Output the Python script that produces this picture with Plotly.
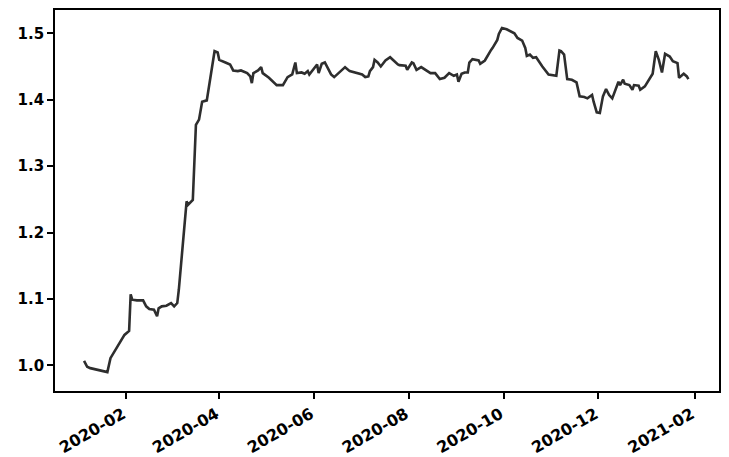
import plotly.graph_objects as go

dates = [
    "2020-01-05", "2020-01-06", "2020-01-07", "2020-01-09", "2020-01-11", "2020-01-13",
    "2020-01-16", "2020-01-20", "2020-01-22", "2020-01-25", "2020-01-28", "2020-01-31",
    "2020-02-03", "2020-02-04", "2020-02-05", "2020-02-08", "2020-02-12", "2020-02-14",
    "2020-02-16", "2020-02-19", "2020-02-21", "2020-02-22", "2020-02-24", "2020-02-27",
    "2020-03-01", "2020-03-03", "2020-03-05", "2020-03-06", "2020-03-11", "2020-03-12",
    "2020-03-15", "2020-03-17", "2020-03-19", "2020-03-21", "2020-03-24", "2020-03-27",
    "2020-03-29", "2020-03-31", "2020-04-01", "2020-04-05", "2020-04-08", "2020-04-10",
    "2020-04-13", "2020-04-15", "2020-04-19", "2020-04-21", "2020-04-22", "2020-04-23",
    "2020-04-26", "2020-04-28", "2020-04-29", "2020-05-03", "2020-05-06", "2020-05-08",
    "2020-05-12", "2020-05-15", "2020-05-18", "2020-05-20", "2020-05-21", "2020-05-24",
    "2020-05-26", "2020-05-28", "2020-05-29", "2020-06-01", "2020-06-03", "2020-06-04",
    "2020-06-06", "2020-06-08", "2020-06-10", "2020-06-12", "2020-06-14", "2020-06-18",
    "2020-06-21", "2020-06-24", "2020-06-28", "2020-07-02", "2020-07-04", "2020-07-06",
    "2020-07-07", "2020-07-09", "2020-07-10", "2020-07-12", "2020-07-14", "2020-07-17",
    "2020-07-20", "2020-07-22", "2020-07-25", "2020-07-26", "2020-07-30", "2020-07-31",
    "2020-08-03", "2020-08-04", "2020-08-06", "2020-08-09", "2020-08-11", "2020-08-15",
    "2020-08-18", "2020-08-21", "2020-08-24", "2020-08-27", "2020-08-30", "2020-09-01",
    "2020-09-02", "2020-09-04", "2020-09-06", "2020-09-08", "2020-09-09", "2020-09-11",
    "2020-09-15", "2020-09-16", "2020-09-19", "2020-09-21", "2020-09-23", "2020-09-24",
    "2020-09-27", "2020-09-28", "2020-09-30", "2020-10-03", "2020-10-06", "2020-10-08",
    "2020-10-10", "2020-10-13", "2020-10-15", "2020-10-16", "2020-10-18", "2020-10-20",
    "2020-10-22", "2020-10-23", "2020-10-26", "2020-10-30", "2020-11-03", "2020-11-04",
    "2020-11-06", "2020-11-07", "2020-11-09", "2020-11-10", "2020-11-11", "2020-11-14",
    "2020-11-17", "2020-11-19", "2020-11-22", "2020-11-24", "2020-11-27", "2020-11-28",
    "2020-11-30", "2020-12-02", "2020-12-04", "2020-12-06", "2020-12-08", "2020-12-10",
    "2020-12-13", "2020-12-14", "2020-12-15", "2020-12-17", "2020-12-18", "2020-12-21",
    "2020-12-23", "2020-12-24", "2020-12-27", "2020-12-28", "2020-12-31", "2021-01-03",
    "2021-01-05", "2021-01-07", "2021-01-09", "2021-01-11", "2021-01-13", "2021-01-16",
    "2021-01-18", "2021-01-21", "2021-01-22", "2021-01-25", "2021-01-27", "2021-01-28",
]

values = [
    1.007, 1.002, 0.998, 0.996, 0.995, 0.993,
    0.992, 0.990, 1.011, 1.023, 1.036, 1.046,
    1.052, 1.107, 1.099, 1.098, 1.098, 1.089,
    1.085, 1.084, 1.074, 1.086, 1.089, 1.090,
    1.094, 1.089, 1.094, 1.114, 1.247, 1.242,
    1.249, 1.362, 1.370, 1.397, 1.399, 1.440,
    1.473, 1.471, 1.460, 1.456, 1.453, 1.444,
    1.443, 1.444, 1.440, 1.435, 1.425, 1.440,
    1.444, 1.449, 1.440, 1.433, 1.426, 1.422,
    1.422, 1.434, 1.438, 1.456, 1.440, 1.441,
    1.439, 1.443, 1.438, 1.448, 1.453, 1.440,
    1.454, 1.456, 1.448, 1.438, 1.434, 1.443,
    1.449, 1.443, 1.440, 1.438, 1.434, 1.435,
    1.443, 1.449, 1.460, 1.456, 1.450, 1.459,
    1.464, 1.459, 1.453, 1.452, 1.451, 1.445,
    1.456, 1.455, 1.445, 1.449, 1.446, 1.440,
    1.440, 1.431, 1.433, 1.440, 1.436, 1.438,
    1.427, 1.439, 1.441, 1.441, 1.456, 1.461,
    1.459, 1.454, 1.459, 1.468, 1.475, 1.478,
    1.490, 1.499, 1.508, 1.506, 1.503, 1.500,
    1.493, 1.489, 1.478, 1.466, 1.468, 1.463,
    1.464, 1.460, 1.450, 1.438, 1.436, 1.436,
    1.474, 1.473, 1.468, 1.450, 1.431, 1.430,
    1.426, 1.405, 1.404, 1.402, 1.407, 1.397,
    1.381, 1.380, 1.405, 1.416, 1.407, 1.402,
    1.420, 1.427, 1.422, 1.430, 1.424, 1.422,
    1.415, 1.422, 1.421, 1.415, 1.420, 1.431,
    1.439, 1.473, 1.460, 1.441, 1.469, 1.465,
    1.458, 1.455, 1.433, 1.439, 1.435, 1.431,
]

x_tick_vals = ["2020-02-01", "2020-04-01", "2020-06-01", "2020-08-01",
               "2020-10-01", "2020-12-01", "2021-02-01"]
x_tick_text = ["2020-02", "2020-04", "2020-06", "2020-08",
               "2020-10", "2020-12", "2021-02"]
y_tick_vals = [1.0, 1.1, 1.2, 1.3, 1.4, 1.5]
y_tick_text = ["1.0", "1.1", "1.2", "1.3", "1.4", "1.5"]

fig = go.Figure()
fig.add_trace(go.Scatter(
    x=dates, y=values, mode="lines",
    line=dict(color="#2e2e2e", width=2.6),
    hoverinfo="skip", showlegend=False,
))

x_font = dict(family="DejaVu Sans", size=16, color="black", weight="bold")
y_font = dict(family="DejaVu Sans", size=15, color="black", weight="bold")

fig.update_layout(
    width=729, height=457,
    margin=dict(l=55, r=10, t=10, b=66, autoexpand=False),
    paper_bgcolor="white", plot_bgcolor="white",
    showlegend=False,
)
fig.update_xaxes(
    type="date", automargin=False,
    range=["2019-12-17 07:00", "2021-02-16 17:00"],
    tickmode="array", tickvals=x_tick_vals, ticktext=x_tick_text,
    tickangle=-30, tickfont=x_font, ticklabelshift=-3,
    showgrid=False, zeroline=False,
    showline=True, linecolor="black", linewidth=1.6, mirror=True,
    ticks="outside", ticklen=6, tickwidth=1.6, tickcolor="black",
)
fig.update_yaxes(
    automargin=False,
    range=[0.9616, 1.535],
    tickmode="array", tickvals=y_tick_vals, ticktext=y_tick_text,
    tickfont=y_font,
    showgrid=False, zeroline=False,
    showline=True, linecolor="black", linewidth=1.6, mirror=True,
    ticks="outside", ticklen=6, tickwidth=1.6, tickcolor="black",
)

fig.write_html(
    "out.html",
    config={"displayModeBar": False},
    post_script="document.body.style.margin='0';document.body.style.overflow='hidden';",
)
